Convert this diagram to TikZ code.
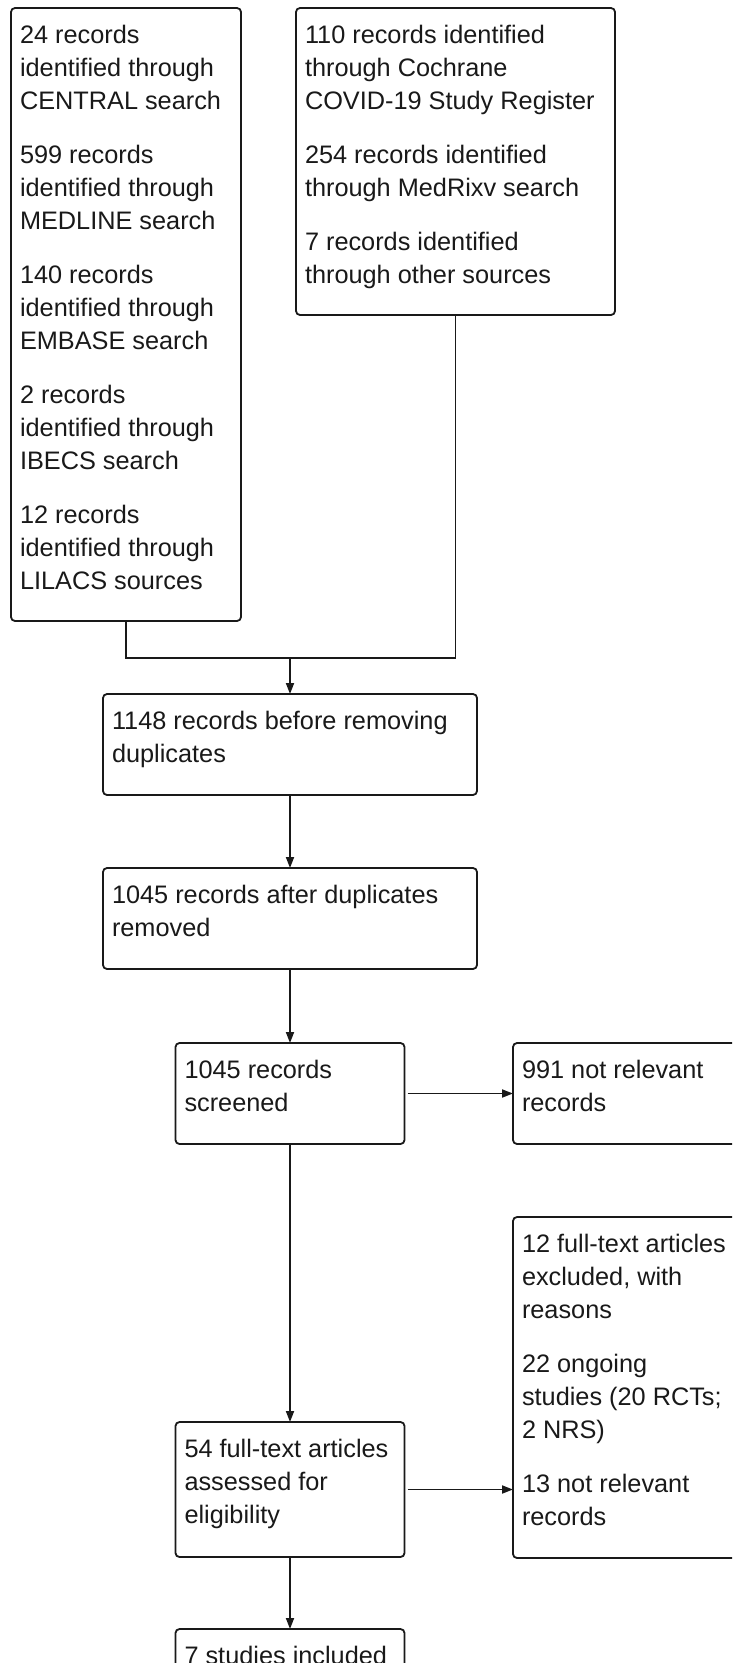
\documentclass[tikz,border=0pt]{standalone}
\usepackage{fontspec}
\setmainfont{Liberation Sans}
\usetikzlibrary{arrows.meta}

% box text: left aligned lines, baseline on the first line
\newcommand{\boxtext}[1]{%
  {\fontsize{25.3}{33}\selectfont
  \begin{tabular}[t]{@{}l@{}}#1\end{tabular}}}

\tikzset{
  flowbox/.style={draw=black!90, line width=1.8pt, rounded corners=4pt,
    rectangle, inner sep=0pt, outer sep=0pt, fill=white},
  boxlabel/.style={anchor=base west, inner sep=0pt, outer sep=0pt,
    text=black!90},
  link/.style={draw=black!90, line width=1.8pt},
  arr/.style={link, -{Triangle[length=11pt,width=8pt]}},
}

\begin{document}
\begin{tikzpicture}[x=1pt,y=-1pt]
\useasboundingbox (0,0) rectangle (732,1663);
\clip (0,0) rectangle (732,1663);
\fill[white] (0,0) rectangle (732,1663);

% boxes
\node[flowbox, minimum width=230pt, minimum height=613pt] (A) at (126,314.5) {};
\node[flowbox, minimum width=319pt, minimum height=307pt] (B) at (455.5,161.5) {};
\node[flowbox, minimum width=374pt, minimum height=101pt] (C) at (290,744.5) {};
\node[flowbox, minimum width=374pt, minimum height=101pt] (D) at (290,918.5) {};
\node[flowbox, minimum width=229pt, minimum height=101pt] (E) at (290,1093.5) {};
\node[flowbox, minimum width=229pt, minimum height=101pt] (R1) at (627.5,1093.5) {};
\node[flowbox, minimum width=229pt, minimum height=135pt] (F) at (290,1489.5) {};
\node[flowbox, minimum width=229pt, minimum height=341pt] (R2) at (627.5,1387.5) {};
\node[flowbox, minimum width=229pt, minimum height=68pt] (G) at (290,1663) {};

% texts (first baseline 35pt below the top edge)
\node[boxlabel] (At) at ([xshift=9pt,yshift=-35pt]A.north west) {\boxtext{%
  24 records\\ identified through\\ CENTRAL search\\[21pt]
  599 records\\ identified through\\ MEDLINE search\\[21pt]
  140 records\\ identified through\\ EMBASE search\\[21pt]
  2 records\\ identified through\\ IBECS search\\[21pt]
  12 records\\ identified through\\ LILACS sources}};
\node[boxlabel] (Bt) at ([xshift=9pt,yshift=-35pt]B.north west) {\boxtext{%
  110 records identified\\ through Cochrane\\ COVID-19 Study Register\\[21pt]
  254 records identified\\ through MedRixv search\\[21pt]
  7 records identified\\ through other sources}};
\node[boxlabel] (Ct) at ([xshift=9pt,yshift=-35pt]C.north west) {\boxtext{%
  1148 records before removing\\ duplicates}};
\node[boxlabel] (Dt) at ([xshift=9pt,yshift=-35pt]D.north west) {\boxtext{%
  1045 records after duplicates\\ removed}};
\node[boxlabel] (Et) at ([xshift=9pt,yshift=-35pt]E.north west) {\boxtext{%
  1045 records\\ screened}};
\node[boxlabel] (R1t) at ([xshift=9pt,yshift=-35pt]R1.north west) {\boxtext{%
  991 not relevant\\ records}};
\node[boxlabel] (Ft) at ([xshift=9pt,yshift=-35pt]F.north west) {\boxtext{%
  54 full-text articles\\ assessed for\\ eligibility}};
\node[boxlabel] (R2t) at ([xshift=9pt,yshift=-35pt]R2.north west) {\boxtext{%
  12 full-text articles\\ excluded, with\\ reasons\\[21pt]
  22 ongoing\\ studies (20 RCTs;\\ 2 NRS)\\[21pt]
  13 not relevant\\ records}};
\node[boxlabel] (Gt) at ([xshift=9pt,yshift=-35pt]G.north west) {\boxtext{%
  7 studies included}};

% connectors
\coordinate (J) at (290,658);
\draw[link] (A.south) |- (J) -| (B.south);
\draw[arr] (J) -- (C.north);
\draw[arr] (C.south) -- (D.north);
\draw[arr] (D.south) -- (E.north);
\draw[arr, shorten <=3pt] (E.east) -- (R1.west);
\draw[arr] (E.south) -- (F.north);
\draw[arr, shorten <=3pt] (F.east) -- (F.east -| R2.west);
\draw[arr] (F.south) -- (G.north);
\end{tikzpicture}
\end{document}
